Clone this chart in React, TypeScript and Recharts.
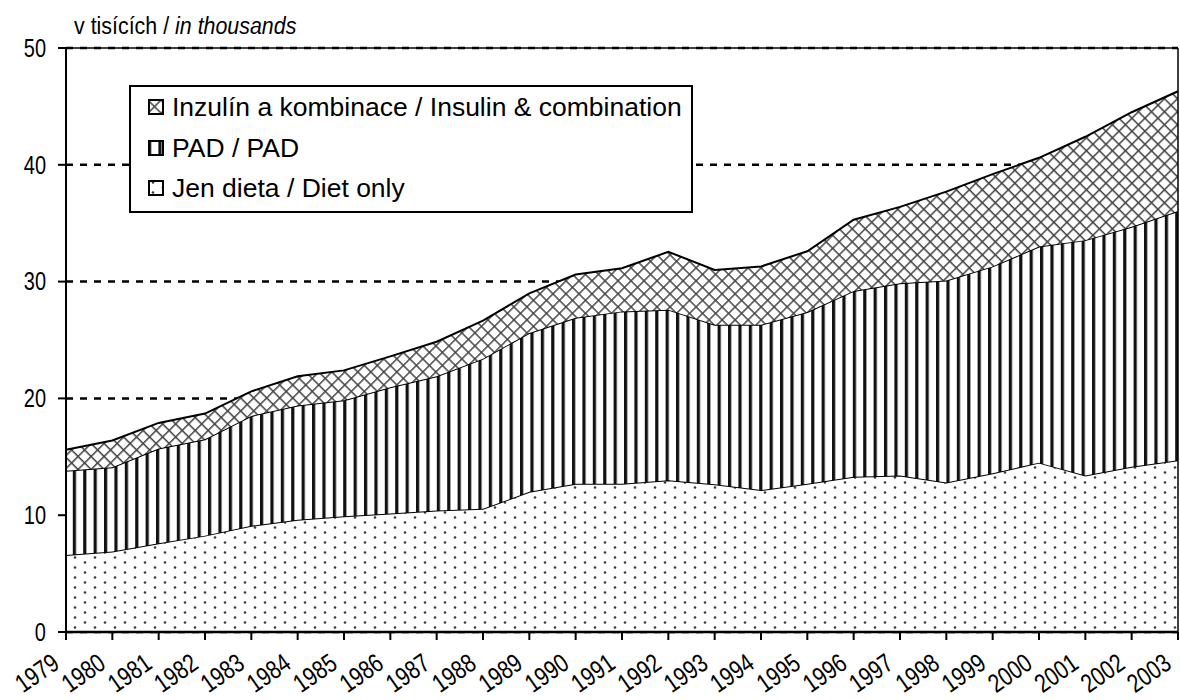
import React from 'react';
import { AreaChart, Area, XAxis, YAxis, CartesianGrid, Legend, ReferenceLine } from 'recharts';

const years = ['1979', '1980', '1981', '1982', '1983', '1984', '1985', '1986', '1987', '1988', '1989', '1990', '1991', '1992', '1993', '1994', '1995', '1996', '1997', '1998', '1999', '2000', '2001', '2002', '2003'];
const dietOnly = [6.6, 6.9, 7.6, 8.25, 9.1, 9.6, 9.9, 10.15, 10.4, 10.55, 12.0, 12.7, 12.7, 13.0, 12.65, 12.15, 12.7, 13.3, 13.4, 12.8, 13.6, 14.5, 13.4, 14.15, 14.7];
const padOnly = [7.2, 7.2, 8.1, 8.25, 9.4, 9.8, 9.95, 10.8, 11.5, 12.85, 13.6, 14.2, 14.75, 14.6, 13.65, 14.15, 14.7, 15.9, 16.45, 17.3, 17.7, 18.5, 20.15, 20.55, 21.35];
const insulinComb = [1.8, 2.3, 2.2, 2.2, 2.1, 2.5, 2.55, 2.65, 2.95, 3.25, 3.4, 3.7, 3.7, 4.95, 4.7, 5.0, 5.2, 6.1, 6.55, 7.6, 7.9, 7.6, 8.85, 9.8, 10.25];
const yTicks = [0, 10, 20, 30, 40, 50];

const seriesNames = {
  insulin: 'Inzulín a kombinace / Insulin & combination',
  pad: 'PAD / PAD',
  diet: 'Jen dieta / Diet only',
};
const titleMain = 'v tisících / ';
const titleItalic = 'in thousands';

const data = years.map((year, i) => ({
  year,
  diet: dietOnly[i],
  pad: padOnly[i],
  insulin: insulinComb[i],
}));

const TEXT_FONT = '"Liberation Sans", Arial, sans-serif';
const NARROW = 0.8;

const XTick = (props: any) => {
  const { x, y, payload } = props;
  const ax = x - 5;
  const ay = y + 25;
  return (
    <g transform={`translate(${ax} ${ay}) rotate(-35) scale(${NARROW} 1)`}>
      <text x={0} y={0} textAnchor="end" fontSize={26} fontFamily={TEXT_FONT} fill="#000">
        {payload.value}
      </text>
    </g>
  );
};

const YTick = (props: any) => {
  const { x, y, payload } = props;
  return (
    <g transform={`translate(${x} ${y}) scale(${NARROW} 1)`}>
      <text x={0} y={0} dy="0.355em" textAnchor="end" fontSize={25} fontFamily={TEXT_FONT} fill="#000">
        {payload.value}
      </text>
    </g>
  );
};

const legendItems = [
  { key: 'insulin', pat: 'patHatch' },
  { key: 'pad', pat: 'patVLines' },
  { key: 'diet', pat: 'patDots' },
];

const LegendBox = () => (
  <div
    style={{
      position: 'relative',
      width: 564,
      height: 128,
      boxSizing: 'border-box',
      border: '2px solid #000',
      background: '#fff',
      fontFamily: TEXT_FONT,
      fontSize: 26.5,
      color: '#000',
    }}
  >
    {legendItems.map((it, i) => (
      <div
        key={it.key}
        style={{
          position: 'absolute',
          left: 0,
          top: 0 + i * 40.5,
          height: 40,
          width: '100%',
          display: 'flex',
          alignItems: 'center',
        }}
      >
        <svg width={16} height={16} style={{ marginLeft: 17, marginRight: 8, flex: 'none' }}>
          <rect x={1} y={1} width={14} height={14} fill={`url(#${it.pat})`} stroke="#000" strokeWidth={2} />
        </svg>
        <span style={{ whiteSpace: 'nowrap', lineHeight: '40px' }}>{(seriesNames as any)[it.key]}</span>
      </div>
    ))}
  </div>
);

export default function App() {
  return (
    <div style={{ position: 'absolute', left: 0, top: 0, width: 1180, height: 700, background: '#fff' }}>
      <div
        style={{
          position: 'absolute',
          left: 74,
          top: 15,
          fontFamily: TEXT_FONT,
          fontSize: 23,
          lineHeight: '23px',
          whiteSpace: 'nowrap',
          color: '#000',
          zIndex: 2,
          transform: 'scaleX(0.93)',
          transformOrigin: '0 0',
        }}
      >
        {titleMain}
        <i>{titleItalic}</i>
      </div>
      <AreaChart
        width={1180}
        height={700}
        data={data}
        margin={{ top: 48, right: 2, bottom: 18, left: 0 }}
      >
        <defs>
          <pattern id="patDots" patternUnits="userSpaceOnUse" width={20} height={10}>
            <rect x={0} y={0} width={20} height={10} fill="#fff" />
            <circle cx={5} cy={2.5} r={1.3} fill="#3a3a3a" />
            <circle cx={15} cy={7.5} r={1.3} fill="#3a3a3a" />
          </pattern>
          <pattern id="patVLines" patternUnits="userSpaceOnUse" width={10.4} height={10}>
            <rect x={0} y={0} width={10.4} height={10} fill="#fff" />
            <rect x={0} y={0} width={3.2} height={10} fill="#111" />
          </pattern>
          <pattern
            id="patHatch"
            patternUnits="userSpaceOnUse"
            width={9.2}
            height={9.2}
            patternTransform="rotate(45)"
          >
            <rect x={0} y={0} width={9.2} height={9.2} fill="#fff" />
            <rect x={0} y={0} width={1.5} height={9.2} fill="#444" />
            <rect x={0} y={0} width={9.2} height={1.5} fill="#444" />
          </pattern>
        </defs>
        <CartesianGrid vertical={false} stroke="#000" strokeDasharray="7 7" strokeWidth={2.5} />
        <XAxis
          dataKey="year"
          height={50}
          interval={0}
          tick={<XTick />}
          tickSize={8}
          tickMargin={2}
          axisLine={{ stroke: '#000', strokeWidth: 2.5 }}
          tickLine={{ stroke: '#000', strokeWidth: 2 }}
        />
        <YAxis
          width={66}
          domain={[0, 50]}
          ticks={yTicks}
          interval={0}
          tickSize={8}
          tickMargin={12}
          axisLine={{ stroke: '#000', strokeWidth: 2 }}
          tickLine={{ stroke: '#000', strokeWidth: 2 }}
          tick={<YTick />}
        />
        <Area
          type="linear"
          dataKey="diet"
          name={seriesNames.diet}
          stackId="1"
          stroke="#000"
          strokeWidth={2}
          fill="url(#patDots)"
          fillOpacity={1}
          isAnimationActive={false}
          dot={false}
          activeDot={false}
        />
        <Area
          type="linear"
          dataKey="pad"
          name={seriesNames.pad}
          stackId="1"
          stroke="#000"
          strokeWidth={2}
          fill="url(#patVLines)"
          fillOpacity={1}
          isAnimationActive={false}
          dot={false}
          activeDot={false}
        />
        <Area
          type="linear"
          dataKey="insulin"
          name={seriesNames.insulin}
          stackId="1"
          stroke="#000"
          strokeWidth={2}
          fill="url(#patHatch)"
          fillOpacity={1}
          isAnimationActive={false}
          dot={false}
          activeDot={false}
        />
        <ReferenceLine y={50} stroke="#000" strokeWidth={1.5} />
        <ReferenceLine x="2003" stroke="#000" strokeWidth={1.5} />
        <Legend
          layout="vertical"
          align="center"
          verticalAlign="middle"
          content={<LegendBox />}
          wrapperStyle={{ position: 'absolute', left: 129, top: 85, width: 564, height: 128 }}
        />
      </AreaChart>
    </div>
  );
}
